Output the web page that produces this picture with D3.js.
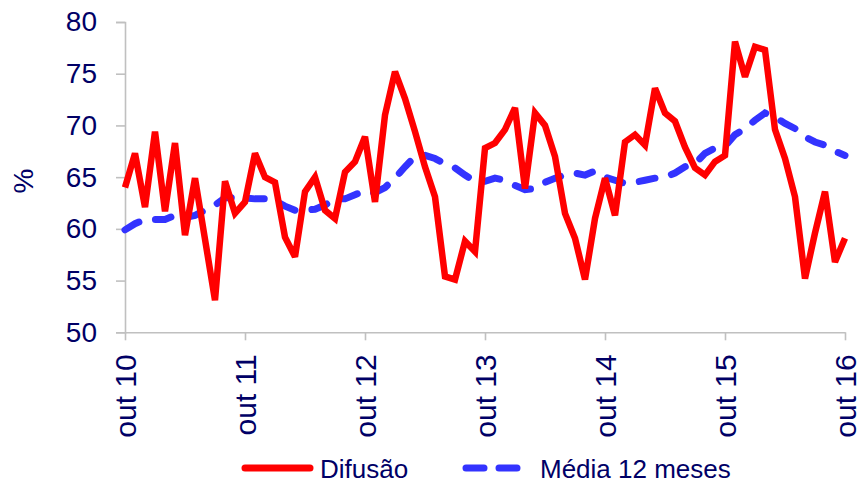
<!DOCTYPE html>
<html>
<head>
<meta charset="utf-8">
<script src="https://cdn.jsdelivr.net/npm/d3@7"></script>
<style>
  body { margin: 0; background: #fff; }
  text { font-family: "Liberation Sans", Arial, sans-serif; fill: #000066; }
</style>
</head>
<body>
<div id="chart"></div>
<script>
// monthly values, out 10 .. out 16
var difusao = [64.0, 67.3, 62.1, 69.4, 61.7, 68.3, 59.4, 64.9, 59.0, 53.1, 64.6, 61.5,
  62.6, 67.3, 65.0, 64.5, 59.2, 57.3, 63.6, 65.0, 61.8, 61.0, 65.5, 66.5,
  68.9, 62.6, 71.0, 75.2, 72.6, 69.4, 66.0, 63.1, 55.4, 55.1, 58.8, 57.8,
  67.8, 68.3, 69.6, 71.7, 63.9, 71.2, 70.0, 67.0, 61.5, 59.1, 55.1, 61.0,
  64.9, 61.3, 68.4, 69.1, 68.1, 73.6, 71.2, 70.4, 67.9, 65.9, 65.2, 66.5,
  67.1, 78.1, 74.7, 77.6, 77.3, 69.6, 66.8, 63.1, 55.2, 59.6, 63.6, 56.8,
  59.1];
var media12 = [59.9, 60.5, 60.9, 60.9, 60.9, 61.3, 61.1, 61.3, 61.8, 62.3, 63.0, 63.0,
  63.0, 62.9, 62.9, 62.7, 62.2, 61.8, 61.8, 61.9, 62.3, 62.9, 62.9, 63.3,
  63.7, 63.5, 64.0, 64.9, 66.0, 67.0, 67.1, 66.8, 66.3, 65.9, 65.2, 64.6,
  64.6, 64.9, 64.7, 64.2, 63.8, 63.9, 64.5, 64.9, 65.2, 65.4, 65.2, 65.6,
  65.0, 64.7, 64.4, 64.5, 64.7, 64.9, 65.0, 65.4, 66.0, 66.3, 67.3, 67.8,
  68.0, 69.1, 69.7, 70.5, 71.2, 70.8, 70.2, 69.7, 68.9, 68.4, 68.1, 67.5,
  67.1];
var tickLabels = ["out 10", "out 11", "out 12", "out 13", "out 14", "out 15", "out 16"];
var yTicks = [50, 55, 60, 65, 70, 75, 80];

var W = 859, H = 485;
var svg = d3.select("#chart").append("svg")
  .attr("width", W).attr("height", H);

var x = d3.scaleLinear().domain([0, difusao.length - 1]).range([125, 845]);
var y = d3.scaleLinear().domain([50, 80]).range([332.3, 22]);

// y axis
var yAxis = svg.append("g")
  .attr("transform", "translate(125,0)")
  .call(d3.axisLeft(y).tickValues(yTicks).tickSize(9).tickPadding(19));
yAxis.select(".domain").attr("stroke", "#c0c0c0").attr("stroke-width", 1.6);
yAxis.selectAll(".tick line").attr("stroke", "#c0c0c0").attr("stroke-width", 1.6);
yAxis.selectAll(".tick text")
  .style("font-size", "28px").attr("fill", "#000066")
  .style("font-family", "'Liberation Sans', Arial, sans-serif");

// x axis
var xAxis = svg.append("g")
  .attr("transform", "translate(0," + y(50) + ")")
  .call(d3.axisBottom(x).tickValues(d3.range(0, 73, 12))
    .tickFormat(function(d, i) { return tickLabels[i]; })
    .tickSize(8).tickSizeOuter(0));
xAxis.select(".domain").attr("stroke", "#c0c0c0").attr("stroke-width", 1.6);
xAxis.selectAll(".tick line").attr("stroke", "#c0c0c0").attr("stroke-width", 1.6);
xAxis.selectAll(".tick text")
  .style("font-size", "30px").attr("fill", "#000066")
  .style("font-family", "'Liberation Sans', Arial, sans-serif")
  .attr("text-anchor", "end")
  .attr("transform", "rotate(-90)")
  .attr("x", -22).attr("y", 0).attr("dy", "0.36em");

// y title
svg.append("text")
  .attr("transform", "translate(23,181) rotate(-90)")
  .attr("text-anchor", "middle").attr("dy", "0.36em")
  .style("font-size", "28px")
  .text("%");

var line = function(vals) {
  return d3.line()
    .x(function(d, i) { return x(i); })
    .y(function(d) { return y(d); })(vals);
};

svg.append("path")
  .attr("d", line(media12))
  .attr("fill", "none")
  .attr("stroke", "#3333ff")
  .attr("stroke-width", 7)
  .attr("stroke-linecap", "round")
  .attr("stroke-dasharray", "16,17");

svg.append("path")
  .attr("d", line(difusao))
  .attr("fill", "none")
  .attr("stroke", "#ff0000")
  .attr("stroke-width", 6.5)
  .attr("stroke-linejoin", "miter")
  .attr("stroke-miterlimit", 3);

// legend
var lg = svg.append("g");
lg.append("line")
  .attr("x1", 245).attr("x2", 310).attr("y1", 468).attr("y2", 468)
  .attr("stroke", "#ff0000").attr("stroke-width", 7).attr("stroke-linecap", "round");
lg.append("text").attr("x", 320).attr("y", 477.5)
  .style("font-size", "26px").text("Difusão");
lg.append("line")
  .attr("x1", 466).attr("x2", 517).attr("y1", 468).attr("y2", 468)
  .attr("stroke", "#3333ff").attr("stroke-width", 7).attr("stroke-linecap", "round")
  .attr("stroke-dasharray", "18,15");
lg.append("text").attr("x", 540).attr("y", 477.5)
  .style("font-size", "26px").text("Média 12 meses");
</script>
</body>
</html>
